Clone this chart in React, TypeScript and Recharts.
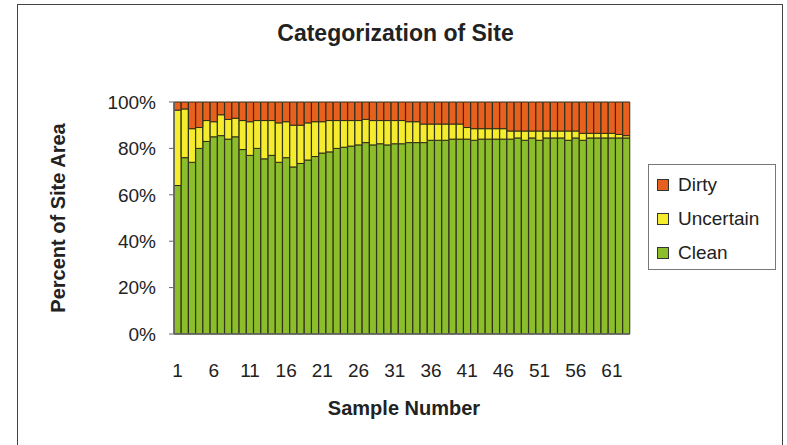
import { Bar, BarChart, XAxis, YAxis } from 'recharts';

const samples = [
  1, 2, 3, 4, 5, 6, 7, 8, 9, 10, 11, 12, 13, 14, 15, 16, 17, 18, 19, 20, 21,
  22, 23, 24, 25, 26, 27, 28, 29, 30, 31, 32, 33, 34, 35, 36, 37, 38, 39, 40, 41, 42,
  43, 44, 45, 46, 47, 48, 49, 50, 51, 52, 53, 54, 55, 56, 57, 58, 59, 60, 61, 62, 63,
];

const clean = [
  64, 76, 74, 80, 83, 85, 85.5, 84, 85, 79.5, 77, 80, 75.5, 77, 74, 76, 72, 73.5, 75, 76.5, 78,
  78.5, 80, 80.5, 81, 81.5, 82.5, 81.5, 82, 81.5, 82, 82, 82.5, 82.5, 82.5, 83.5, 83.5, 83.5, 84, 84, 84, 83.5,
  84, 84, 84, 84, 84, 84.5, 83.5, 84.5, 83.5, 84.5, 84.5, 84.5, 83.5, 84.5, 83.5, 84.5, 84.5, 84.5, 84.5, 84.5, 84.5,
];

const uncertain = [
  32.5, 21, 14.5, 9, 9, 6.5, 9, 8.5, 8, 12.5, 14.5, 12, 16.5, 15, 17, 15.5, 18, 16.5, 16, 15, 13.5,
  13.5, 12, 11.5, 11, 10.5, 10, 10.5, 10, 10.5, 10, 10, 9, 9, 8, 7, 7, 7, 6.5, 6.5, 5, 5,
  4.5, 4.5, 4.5, 4.5, 3.5, 3, 4, 3, 4, 3, 3, 3, 4, 3, 3, 2, 2, 2, 2, 1.5, 1,
];

const dirty = [
  3.5, 3, 11.5, 11, 8, 8.5, 5.5, 7.5, 7, 8, 8.5, 8, 8, 8, 9, 8.5, 10, 10, 9, 8.5, 8.5,
  8, 8, 8, 8, 8, 7.5, 8, 8, 8, 8, 8, 8.5, 8.5, 9.5, 9.5, 9.5, 9.5, 9.5, 9.5, 11, 11.5,
  11.5, 11.5, 11.5, 11.5, 12.5, 12.5, 12.5, 12.5, 12.5, 12.5, 12.5, 12.5, 12.5, 12.5, 13.5, 13.5, 13.5, 13.5, 13.5, 14, 14.5,
];

const xTickLabels = [1, 6, 11, 16, 21, 26, 31, 36, 41, 46, 51, 56, 61];
const yTicks = [0, 20, 40, 60, 80, 100];

const dirtyColor = '#e8601e';
const uncertainColor = '#f4ec2c';
const cleanColor = '#8cbd2a';
const barStroke = '#2e2e1a';
const axisColor = '#666666';
const textColor = '#222222';
const fontFamily = '"Liberation Sans", Arial, sans-serif';

const legendItems = [
  { name: 'Dirty', color: dirtyColor },
  { name: 'Uncertain', color: uncertainColor },
  { name: 'Clean', color: cleanColor },
];

const chartData = samples.map((sample, i) => ({
  sample,
  clean: clean[i],
  uncertain: uncertain[i],
  dirty: dirty[i],
}));

const boundaryTicks = [...samples.map((s) => s - 0.5), samples[samples.length - 1] + 0.5];

function LegendBox() {
  return (
    <div
      style={{
        position: 'absolute',
        left: 648,
        top: 164,
        border: '1.5px solid #777',
        background: '#fff',
        width: 128,
        height: 106,
        boxSizing: 'border-box',
        padding: '3px 0 0 8px',
        fontFamily,
        fontSize: 19,
        color: textColor,
      }}
    >
      {legendItems.map((item) => (
        <div key={item.name} style={{ display: 'flex', alignItems: 'center', height: 34 }}>
          <span
            style={{
              width: 10,
              height: 10,
              background: item.color,
              border: '1px solid #333',
              marginRight: 9,
              display: 'inline-block',
            }}
          />
          {item.name}
        </div>
      ))}
    </div>
  );
}

export default function App() {
  return (
    <div style={{ position: 'absolute', left: 0, top: 0, width: 787, height: 445, background: '#fff', overflow: 'hidden' }}>
      <div
        style={{
          position: 'absolute',
          left: 17,
          top: 4,
          width: 766,
          height: 460,
          border: '1.5px solid #444',
          boxSizing: 'border-box',
        }}
      />
      <div
        style={{
          position: 'absolute',
          left: 0,
          width: 787,
          top: 20,
          textAlign: 'center',
          paddingLeft: 2,
          fontFamily,
          fontWeight: 700,
          fontSize: 23,
          color: textColor,
        }}
      >
        Categorization of Site
      </div>
      <div
        style={{
          position: 'absolute',
          left: 58,
          top: 218,
          transform: 'translate(-50%, -50%) rotate(-90deg)',
          whiteSpace: 'nowrap',
          fontFamily,
          fontWeight: 700,
          fontSize: 20,
          color: textColor,
        }}
      >
        Percent of Site Area
      </div>
      <div
        style={{
          position: 'absolute',
          left: 404,
          top: 408,
          transform: 'translate(-50%, -50%)',
          whiteSpace: 'nowrap',
          fontFamily,
          fontWeight: 700,
          fontSize: 20,
          color: textColor,
        }}
      >
        Sample Number
      </div>
      <div style={{ position: 'absolute', left: 0, top: 0 }}>
        <BarChart
          width={787}
          height={445}
          data={chartData}
          margin={{ top: 102, right: 157, bottom: 81, left: 114 }}
          barCategoryGap={0}
          barGap={0}
        >
          <XAxis
            xAxisId="marks"
            type="number"
            dataKey="sample"
            domain={[0.5, 63.5]}
            ticks={boundaryTicks}
            allowDataOverflow
            height={0}
            axisLine={false}
            tickSize={4}
            tickLine={{ stroke: '#444' }}
            tickFormatter={() => ''}
          />
          <XAxis
            xAxisId="cat"
            dataKey="sample"
            ticks={xTickLabels}
            interval={0}
            height={30}
            tickLine={false}
            axisLine={{ stroke: axisColor, strokeWidth: 1.5 }}
            tickMargin={24}
            tick={{ fill: textColor, fontSize: 19, fontFamily }}
          />
          <YAxis
            domain={[0, 100]}
            ticks={yTicks}
            width={60}
            tickSize={5}
            tickMargin={13}
            axisLine={{ stroke: axisColor, strokeWidth: 1.5 }}
            tickLine={{ stroke: axisColor }}
            tickFormatter={(v) => `${v}%`}
            tick={{ fill: textColor, fontSize: 19, fontFamily }}
          />
          <Bar xAxisId="cat" dataKey="clean" stackId="a" fill={cleanColor} stroke={barStroke} strokeWidth={1} isAnimationActive={false} />
          <Bar xAxisId="cat" dataKey="uncertain" stackId="a" fill={uncertainColor} stroke={barStroke} strokeWidth={1} isAnimationActive={false} />
          <Bar xAxisId="cat" dataKey="dirty" stackId="a" fill={dirtyColor} stroke={barStroke} strokeWidth={1} isAnimationActive={false} />
        </BarChart>
      </div>
      <LegendBox />
    </div>
  );
}
